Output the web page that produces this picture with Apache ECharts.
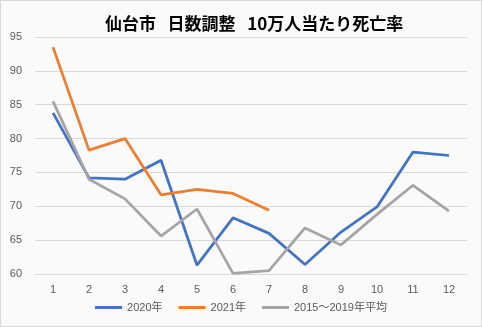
<!DOCTYPE html>
<html>
<head>
<meta charset="utf-8">
<script src="https://cdn.jsdelivr.net/npm/echarts@6/dist/echarts.min.js"></script>
<style>
  html, body { margin: 0; padding: 0; background: #ffffff; }
  #chart { width: 480px; height: 325px; border: 1px solid #d9d9d9; background: #fafafa; }
</style>
</head>
<body>
<div id="chart"></div>
<script>
// Monthly mortality per 100,000 (day-adjusted), Sendai
const months = ['1', '2', '3', '4', '5', '6', '7', '8', '9', '10', '11', '12'];
const rate2020 = [83.8, 74.2, 74.0, 76.8, 61.3, 68.3, 66.0, 61.4, 66.2, 69.9, 78.0, 77.5];
const rate2021 = [93.5, 78.3, 80.0, 71.7, 72.5, 71.9, 69.4];
const rateAvg = [85.5, 74.0, 71.1, 65.6, 69.6, 60.1, 60.5, 66.8, 64.3, 68.8, 73.1, 69.3];
const yTicks = { min: 60, max: 95, interval: 5 };

const labelFont = { color: '#595959', fontSize: 11, fontFamily: 'Liberation Sans, Noto Sans CJK JP' };

function lineSeries(name, data, color) {
  return {
    name: name,
    type: 'line',
    data: data,
    symbol: 'none',
    smooth: false,
    lineStyle: { color: color, width: 2.75 },
    itemStyle: { color: color }
  };
}

const chart = echarts.init(document.getElementById('chart'));
chart.setOption({
  animation: false,
  backgroundColor: '#fafafa',
  title: {
    text: '仙台市   日数調整   10万人当たり死亡率',
    left: 99,
    top: 9,
    textStyle: { fontSize: 17, fontWeight: 'bold', color: '#000000', fontFamily: 'Noto Sans CJK JP' }
  },
  legend: {
    bottom: 8,
    left: 'center',
    icon: 'rect',
    itemWidth: 27,
    itemHeight: 3,
    itemGap: 16,
    textStyle: labelFont,
    data: ['2020年', '2021年', '2015～2019年平均']
  },
  grid: { left: 34, right: 14, top: 36, bottom: 52 },
  xAxis: {
    type: 'category',
    data: months,
    boundaryGap: true,
    axisLine: { show: true, lineStyle: { color: '#d9d9d9', width: 1 } },
    axisTick: { show: false },
    axisLabel: Object.assign({ margin: 10 }, labelFont)
  },
  yAxis: {
    type: 'value',
    min: yTicks.min,
    max: yTicks.max,
    interval: yTicks.interval,
    axisLine: { show: false },
    axisTick: { show: false },
    splitLine: { lineStyle: { color: '#d9d9d9', width: 1 } },
    axisLabel: Object.assign({ margin: 13 }, labelFont)
  },
  series: [
    lineSeries('2020年', rate2020, '#4472C4'),
    lineSeries('2021年', rate2021, '#ED7D31'),
    lineSeries('2015～2019年平均', rateAvg, '#A5A5A5')
  ]
});
</script>
</body>
</html>
